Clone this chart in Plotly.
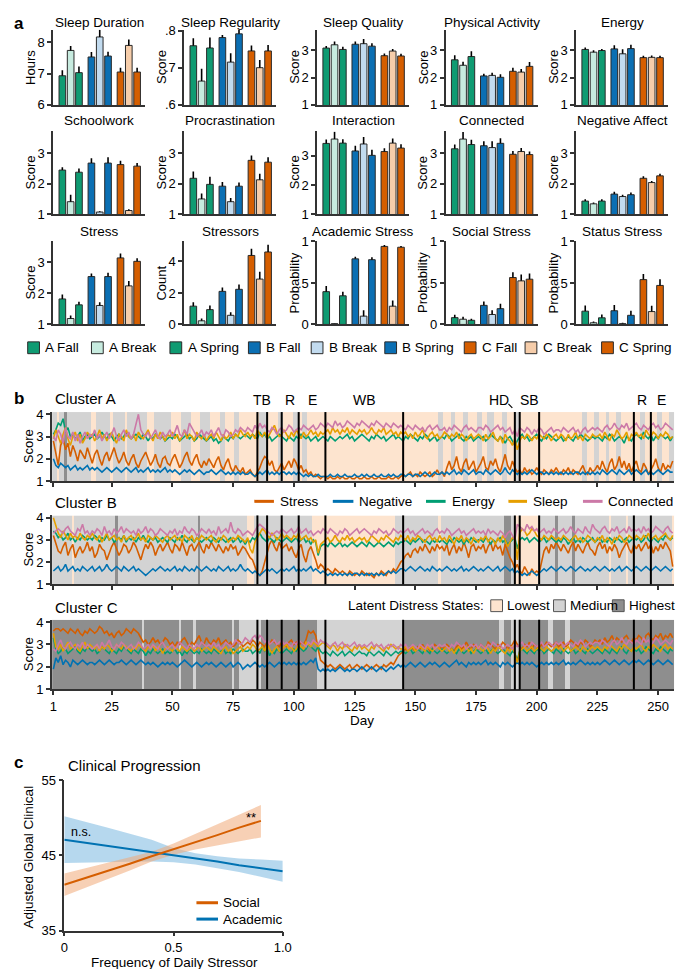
import numpy as np
import plotly.graph_objects as go

W, H = 685, 969
FONT = "Liberation Sans, Arial, Helvetica, sans-serif"

# ======================= DATA: panel a =======================
bar_labels = ["A Fall", "A Break", "A Spring", "B Fall", "B Break", "B Spring", "C Fall", "C Break", "C Spring"]
bar_colors = ["#0f9b72", "#c7ebdf", "#0f9b72", "#0b6fb3", "#c2dbef", "#0b6fb3", "#d55e00", "#f6cdaa", "#d55e00"]

sleep_duration = [6.93, 7.74, 7.03, 7.53, 8.17, 7.56, 7.05, 7.90, 7.05]
sleep_duration_err = [0.18, 0.14, 0.20, 0.16, 0.23, 0.14, 0.14, 0.19, 0.14]
sleep_regularity = [0.759, 0.664, 0.753, 0.781, 0.715, 0.791, 0.745, 0.700, 0.745]
sleep_regularity_err = [0.020, 0.033, 0.028, 0.007, 0.024, 0.011, 0.015, 0.021, 0.016]
sleep_quality = [3.08, 3.20, 3.03, 3.22, 3.24, 3.15, 2.80, 2.97, 2.79]
sleep_quality_err = [0.08, 0.12, 0.10, 0.10, 0.17, 0.11, 0.08, 0.08, 0.08]
physical_activity = [2.65, 2.45, 2.77, 2.06, 2.08, 2.01, 2.23, 2.20, 2.41]
physical_activity_err = [0.17, 0.13, 0.19, 0.08, 0.10, 0.11, 0.13, 0.11, 0.16]
energy = [3.03, 2.93, 2.99, 3.05, 2.87, 3.06, 2.73, 2.74, 2.73]
energy_err = [0.07, 0.07, 0.06, 0.13, 0.17, 0.14, 0.07, 0.07, 0.07]
schoolwork = [2.45, 1.41, 2.38, 2.68, 1.07, 2.68, 2.63, 1.12, 2.58]
schoolwork_err = [0.09, 0.23, 0.12, 0.16, 0.03, 0.19, 0.13, 0.04, 0.10]
procrastination = [2.18, 1.50, 1.98, 1.92, 1.41, 1.92, 2.77, 2.13, 2.71]
procrastination_err = [0.22, 0.18, 0.25, 0.14, 0.12, 0.12, 0.16, 0.20, 0.16]
interaction = [3.43, 3.58, 3.44, 3.17, 3.41, 3.02, 3.15, 3.44, 3.27]
interaction_err = [0.13, 0.25, 0.13, 0.18, 0.24, 0.19, 0.11, 0.16, 0.13]
connected = [3.15, 3.47, 3.29, 3.25, 3.19, 3.33, 2.97, 3.06, 2.96]
connected_err = [0.14, 0.23, 0.16, 0.15, 0.21, 0.17, 0.11, 0.12, 0.10]
negative_affect = [1.43, 1.34, 1.43, 1.66, 1.58, 1.64, 2.18, 2.04, 2.26]
negative_affect_err = [0.06, 0.04, 0.06, 0.08, 0.06, 0.07, 0.07, 0.05, 0.07]
stress = [1.82, 1.19, 1.63, 2.54, 1.61, 2.54, 3.14, 2.24, 3.03]
stress_err = [0.14, 0.10, 0.10, 0.10, 0.10, 0.12, 0.14, 0.16, 0.10]
stressors = [1.16, 0.23, 0.94, 2.10, 0.58, 2.23, 4.38, 2.88, 4.60]
stressors_err = [0.25, 0.15, 0.27, 0.25, 0.20, 0.30, 0.42, 0.46, 0.46]
academic_stress = [0.395, 0.01, 0.345, 0.79, 0.10, 0.78, 0.94, 0.22, 0.93]
academic_stress_err = [0.067, 0.005, 0.05, 0.027, 0.07, 0.03, 0.016, 0.067, 0.016]
social_stress = [0.082, 0.063, 0.05, 0.23, 0.12, 0.19, 0.565, 0.525, 0.545]
social_stress_err = [0.035, 0.03, 0.02, 0.047, 0.05, 0.06, 0.063, 0.078, 0.07]
status_stress = [0.16, 0.02, 0.08, 0.165, 0.01, 0.11, 0.54, 0.155, 0.47]
status_stress_err = [0.067, 0.016, 0.04, 0.07, 0.01, 0.055, 0.067, 0.07, 0.075]

panel_titles = ["Sleep Duration", "Sleep Regularity", "Sleep Quality", "Physical Activity", "Energy",
                "Schoolwork", "Procrastination", "Interaction", "Connected", "Negative Affect",
                "Stress", "Stressors", "Academic Stress", "Social Stress", "Status Stress"]
panel_ylabels = ["Hours", "Score", "Score", "Score", "Score",
                 "Score", "Score", "Score", "Score", "Score",
                 "Score", "Count", "Probability", "Probability", "Probability"]
panel_means = [sleep_duration, sleep_regularity, sleep_quality, physical_activity, energy,
               schoolwork, procrastination, interaction, connected, negative_affect,
               stress, stressors, academic_stress, social_stress, status_stress]
panel_errs = [sleep_duration_err, sleep_regularity_err, sleep_quality_err, physical_activity_err, energy_err,
              schoolwork_err, procrastination_err, interaction_err, connected_err, negative_affect_err,
              stress_err, stressors_err, academic_stress_err, social_stress_err, status_stress_err]
tick_hours = ([6, 7, 8], ["6", "7", "8"])
tick_reg = ([0.6, 0.7, 0.8], [".6", ".7", ".8"])
tick_score = ([1, 2, 3], ["1", "2", "3"])
tick_count = ([0, 2, 4], ["0", "2", "4"])
tick_prob = ([0, 0.5, 1], ["0", ".5", "1"])
panel_ticks = [tick_hours, tick_reg, tick_score, tick_score, tick_score,
               tick_score, tick_score, tick_score, tick_score, tick_score,
               tick_score, tick_count, tick_prob, tick_prob, tick_prob]
panel_ranges = [[6, 8.4], [0.6, 0.802], [1, 3.75], [1, 3.75], [1, 3.75],
                [1, 3.72], [1, 3.72], [1, 3.84], [1, 3.72], [1, 3.72],
                [1, 3.67], [0, 5.27], [0, 1.0], [0, 1.0], [0, 1.0]]

# ======================= DATA: panel b =======================
series_names = ["Stress", "Negative", "Energy", "Sleep", "Connected"]
series_colors = ["#d55e00", "#0072b2", "#009e73", "#e69f00", "#cc79a7"]
event_days = [85, 89, 95, 102, 113, 145, 191, 193, 201, 240, 247]
event_labels = ["TB", "R", "E", "WB", "HD", "SB", "R", "E"]
event_label_days = [87, 98.5, 107.5, 129, 184.5, 197, 243.5, 251.5]
day_ticks = [1, 25, 50, 75, 100, 125, 150, 175, 200, 225, 250]
state_names = ["Lowest", "Medium", "Highest"]
state_colors = ["#fde4cf", "#d3d3d3", "#8e8e8e"]

# values in tenths of a score point, one per day (days 1..256)
a_stress = """
28 22 17 26 29 24 27 21 26 23 19 24 22 20 25 21
18 22 24 20 17 21 23 19 22 25 21 18 20 23 19 17
20 22 18 16 19 21 23 20 17 19 22 18 16 20 21 18
17 20 22 19 16 18 21 23 19 17 20 22 18 16 19 17
20 18 16 19 21 17 15 18 20 16 14 17 15 14 16 13
14 15 13 12 14 16 19 21 20 17 19 15 14 16 18 15
17 19 16 20 18 15 17 14 15 13 14 12 13 12 11 12
12 11 12 11 11 12 11 12 11 11 12 11 11 12 11 11
12 11 11 12 11 11 12 11 11 11 12 11 11 12 11 12
13 12 13 14 12 13 12 14 13 12 13 14 12 13 15 13
14 12 16 19 15 17 21 16 14 18 20 15 17 19 14 16
18 21 16 15 19 17 20 16 14 18 22 17 15 19 16 14
15 13 16 14 15 13 14 16 14 13 15 14 13 15 14 16
14 13 15 14 16 13 15 14 13 15 17 14 13 16 14 15
17 15 19 16 14 18 20 15 17 21 16 19 15 18 14 17
19 15 14 18 16 13 15 17 20 16 14 18 15 17 16 19
"""
a_negative = """
20 17 16 18 17 16 17 15 16 17 15 16 15 16 17 15
16 15 16 15 14 15 16 15 14 15 16 15 14 15 16 15
14 15 16 14 15 14 15 16 14 15 14 15 14 15 16 14
15 14 15 14 13 14 15 14 15 14 13 14 15 14 13 14
14 15 14 13 14 15 14 13 14 13 14 13 14 13 14 13
13 14 13 12 13 14 13 14 15 13 14 13 14 13 14 14
13 14 13 14 13 14 13 12 13 12 13 12 12 13 12 12
12 12 13 12 12 13 12 12 13 12 12 12 13 12 12 13
12 13 12 12 13 12 12 13 12 12 13 12 13 12 12 13
13 12 13 13 12 13 13 12 13 14 13 12 13 14 13 13
14 13 14 13 14 15 13 14 13 15 14 13 14 15 13 14
14 13 15 14 13 14 15 14 13 14 16 14 13 15 14 13
14 13 14 13 14 15 14 13 14 14 13 14 13 14 13 14
13 14 13 14 13 14 13 14 14 13 14 13 14 13 14 13
14 13 15 14 13 14 15 14 13 15 14 13 14 15 13 14
15 14 13 14 15 13 14 13 14 15 14 13 14 15 14 14
"""
a_energy = """
31 33 36 35 38 32 34 30 31 29 30 32 28 30 31 29
30 31 29 30 32 30 29 31 30 28 30 31 29 30 32 30
29 30 31 30 29 31 30 28 30 29 31 30 29 30 28 29
30 29 31 30 28 29 30 31 29 30 28 29 31 30 29 28
29 30 28 29 27 28 30 29 28 30 29 31 30 29 30 31
30 29 31 30 29 32 30 31 29 30 28 29 30 31 30 29
28 30 29 28 30 29 31 30 29 30 28 29 30 28 29 30
29 28 30 29 28 29 30 29 30 31 29 30 28 29 30 31
30 29 28 30 29 31 30 29 30 28 29 30 31 29 30 29
28 30 29 31 30 29 28 30 29 31 30 28 29 30 28 29
30 29 31 30 28 29 30 31 29 28 30 29 30 28 29 30
29 30 28 29 31 30 29 28 30 29 27 29 30 28 26 28
30 31 29 30 28 29 30 31 29 28 30 29 31 30 29 28
29 30 28 29 30 29 28 30 29 31 30 29 28 29 30 29
30 29 28 30 29 31 30 28 29 30 29 27 30 29 28 30
31 30 29 32 30 29 31 28 30 29 31 30 29 30 28 30
"""
a_sleep = """
29 33 30 27 31 34 29 26 30 32 28 31 27 29 32 30
31 28 30 33 29 31 28 30 32 29 27 31 30 28 33 30
29 31 28 32 30 29 31 33 30 28 31 29 32 30 28 31
30 32 29 31 28 30 33 29 31 30 28 32 30 29 31 28
30 31 29 32 30 28 31 29 30 32 29 31 30 33 31 30
32 30 31 29 33 31 30 32 29 31 33 35 32 30 31 33
31 29 32 30 33 31 29 32 30 31 33 31 32 30 32 31
32 33 31 34 32 33 31 33 32 34 31 33 32 31 33 32
33 31 32 34 32 31 33 32 34 31 32 33 31 32 30 32
31 32 30 31 29 32 30 31 33 30 29 31 32 30 31 29
30 32 31 29 31 30 32 29 31 30 28 30 31 29 30 31
30 28 31 29 30 32 29 28 30 27 31 29 28 26 29 24
28 30 29 31 30 28 30 29 31 30 29 31 30 28 30 31
29 31 30 28 31 29 30 32 29 30 28 31 30 29 31 30
30 31 29 32 30 28 31 30 33 31 29 30 32 28 31 30
32 30 31 29 33 31 30 32 31 29 31 30 32 31 29 30
"""
a_connected = """
30 28 33 31 27 34 30 29 32 28 31 27 30 32 29 31
30 33 29 31 28 30 32 29 31 34 30 28 31 33 30 32
29 31 35 40 33 31 30 32 29 31 33 30 29 32 30 31
33 30 32 35 31 30 33 31 36 34 32 30 31 33 30 32
31 33 30 32 34 31 30 33 32 30 31 33 32 34 33 32
34 33 32 35 33 36 34 35 33 32 34 33 31 33 34 32
33 35 34 32 33 34 33 35 34 33 34 35 33 34 36 35
34 36 35 34 37 35 36 34 35 37 36 35 34 36 35 37
36 35 34 36 35 37 36 35 34 36 35 34 36 35 34 35
34 33 35 34 33 35 34 33 34 32 34 35 33 34 35 33
33 34 32 34 33 35 34 33 32 34 35 33 34 33 32 34
34 33 35 34 32 33 34 35 33 34 32 33 34 31 33 30
34 33 32 34 33 31 33 32 34 33 31 32 33 34 32 33
33 32 34 33 32 33 34 32 33 31 33 34 32 33 34 33
34 33 32 34 35 33 34 36 34 33 35 34 36 33 34 35
36 34 33 35 34 33 35 36 34 35 33 34 36 35 34 33
"""
b_stress = """
32 28 25 24 27 29 23 26 28 22 25 27 24 26 29 25
27 22 24 28 26 25 21 24 27 29 26 23 25 28 27 24
26 29 27 24 21 25 28 26 29 27 23 26 28 25 27 29
26 24 28 27 25 29 26 23 27 28 25 27 29 26 24 28
26 29 27 25 28 26 24 27 25 28 26 27 23 25 27 26
24 22 21 18 15 14 16 20 24 28 30 27 25 29 26 27
28 25 27 24 22 26 28 23 20 25 27 24 21 17 19 18
16 17 16 15 17 16 15 16 15 14 16 15 14 15 14 16
15 14 15 14 13 15 14 16 15 14 16 15 17 16 18 20
21 23 24 22 25 26 24 27 25 28 26 24 27 25 28 26
27 25 28 23 26 28 24 27 25 29 26 22 27 28 25 27
26 28 24 27 29 25 28 26 27 23 28 25 22 20 17 19
16 15 18 16 14 17 15 16 15 20 25 27 24 28 26 29
27 25 28 26 24 27 29 25 28 26 24 27 29 26 25 23
27 29 26 28 24 27 25 28 26 22 25 27 29 26 24 28
26 28 25 27 29 26 28 24 27 25 28 26 29 27 25 18
"""
b_negative = """
16 17 18 16 17 19 16 17 18 16 17 16 18 17 16 17
18 16 17 18 16 17 19 17 16 17 18 17 16 18 17 16
17 18 16 17 16 15 14 15 16 17 16 17 18 17 16 17
16 17 18 16 17 16 18 17 16 17 16 18 17 16 17 18
17 16 17 16 18 17 16 17 18 16 17 16 17 19 17 16
17 16 15 16 15 14 15 16 17 16 17 16 15 16 17 16
17 16 17 18 16 17 16 17 16 17 18 16 17 16 15 16
15 14 15 14 15 14 15 14 15 14 15 14 15 15 14 15
14 15 14 15 14 15 14 15 14 15 16 15 16 15 16 17
17 16 17 18 17 16 17 18 17 16 17 16 18 17 16 17
16 17 18 17 16 17 16 17 18 16 17 16 17 18 17 16
17 16 17 18 17 16 17 18 16 17 18 17 16 17 15 16
15 14 15 14 15 16 15 14 15 16 17 16 17 18 17 16
17 18 17 16 17 18 17 16 17 18 17 16 17 16 17 18
17 16 17 18 17 16 17 16 17 18 16 17 18 17 16 17
18 17 16 17 18 17 16 17 18 17 16 17 18 17 16 17
"""
b_energy = """
34 33 31 32 30 31 33 30 31 29 31 30 32 31 30 31
30 32 31 29 31 30 32 30 31 29 30 31 30 32 29 31
30 31 29 31 30 32 30 29 31 30 31 29 30 31 30 29
31 30 29 31 30 32 30 29 31 30 29 31 30 29 30 31
30 29 31 30 29 31 30 29 30 31 29 30 31 29 30 28
30 29 31 30 32 33 31 30 29 31 30 29 31 30 29 30
31 30 29 30 31 29 30 31 29 30 28 30 29 23 27 28
28 27 29 28 27 28 29 27 28 27 28 29 28 27 28 29
28 27 29 28 27 28 29 28 27 28 29 28 27 29 28 29
29 30 29 28 30 29 30 31 29 30 29 28 30 29 30 29
30 29 28 30 29 31 30 29 30 28 30 29 31 30 29 30
30 29 31 30 28 30 29 30 31 29 30 28 29 30 31 26
30 31 30 31 29 30 31 30 29 30 31 29 30 31 30 29
30 29 31 30 28 30 31 29 30 29 31 30 29 30 31 29
30 31 29 30 29 31 30 29 31 30 29 30 31 29 30 31
30 31 29 30 32 30 29 31 30 29 31 30 32 31 30 31
"""
b_sleep = """
40 36 33 31 34 32 30 33 31 32 30 33 31 30 32 31
33 31 30 32 29 31 33 30 31 32 30 31 29 32 30 31
32 30 31 33 30 31 29 32 31 30 32 31 30 29 31 32
30 31 32 30 31 29 32 31 30 32 29 31 30 32 31 30
31 32 30 29 31 30 32 31 29 30 31 30 32 31 30 29
31 26 24 29 31 33 35 34 32 31 33 32 30 31 33 31
32 31 30 32 31 33 30 31 32 30 31 29 30 24 28 29
30 31 29 30 32 30 29 31 30 32 30 31 29 30 31 30
31 29 30 32 31 30 29 31 30 32 31 30 29 31 30 32
31 30 32 29 31 30 32 31 30 29 31 32 30 31 29 32
30 31 29 32 30 28 31 30 32 29 31 30 28 31 30 29
31 30 32 29 31 30 28 31 29 32 30 27 29 31 30 21
33 35 34 32 33 35 34 32 31 30 32 31 30 32 31 30
31 30 32 31 30 29 31 32 30 31 29 30 32 31 30 29
31 30 32 29 31 30 28 31 30 32 31 29 30 32 31 30
32 31 30 32 31 33 30 31 32 30 31 32 33 31 30 32
"""
b_connected = """
33 34 35 34 33 35 36 34 33 32 35 34 37 33 34 32
34 33 35 34 32 36 33 34 32 35 33 34 36 33 35 34
33 34 32 35 33 34 36 33 35 34 32 33 35 34 33 32
34 33 35 32 34 33 36 34 33 35 34 32 33 35 34 33
35 33 34 32 36 33 34 35 33 38 34 33 35 34 32 33
34 33 32 34 36 37 36 35 34 33 32 33 34 33 35 34
33 34 35 33 34 36 33 34 35 33 34 32 33 34 33 35
34 33 35 34 33 32 34 33 35 34 32 33 34 35 33 34
35 34 33 32 34 33 35 34 33 34 32 33 35 34 33 34
33 34 35 33 34 32 33 34 35 33 34 33 32 34 35 33
34 33 35 34 32 33 34 35 33 34 32 33 34 35 33 34
33 34 32 35 33 34 33 32 34 33 31 33 34 32 30 37
36 35 34 37 35 36 34 35 33 34 35 33 34 33 35 34
33 34 35 33 34 36 34 33 35 34 33 36 34 33 37 35
34 33 35 36 34 33 35 34 36 33 34 35 33 36 34 35
34 35 33 36 34 35 33 34 36 35 34 33 35 36 34 33
"""
c_stress = """
36 37 37 36 37 36 35 37 36 35 37 35 34 36 35 37
36 35 36 38 37 35 36 34 35 33 35 36 34 35 37 36
35 37 36 35 33 31 32 30 31 33 31 32 30 31 33 32
30 31 29 31 30 32 33 31 29 31 30 32 34 31 30 33
31 30 32 31 33 30 31 32 30 31 29 30 32 31 29 30
31 30 32 31 29 31 30 29 31 30 32 31 30 29 31 30
29 31 32 30 31 29 31 30 32 36 35 36 34 28 23 22
21 20 21 20 19 20 21 20 19 20 21 19 20 21 20 19
20 21 20 19 20 21 20 19 21 20 21 22 21 23 25 26
27 28 27 29 28 27 29 28 30 28 29 27 28 30 29 28
29 28 30 29 28 27 29 30 28 29 31 29 28 30 29 28
30 29 28 31 30 29 28 30 29 31 30 28 29 30 32 30
29 28 30 29 31 28 30 29 28 30 29 31 30 29 30 31
29 30 31 29 30 32 31 30 29 31 30 32 31 29 30 32
31 32 30 33 31 32 34 31 33 32 31 33 34 32 31 33
32 34 33 31 34 35 33 32 34 33 35 32 34 33 35 33
"""
c_negative = """
19 24 22 25 21 23 22 20 23 22 21 22 23 22 21 22
22 21 22 23 22 21 22 23 22 21 22 22 23 22 21 22
23 22 21 22 23 22 21 22 21 22 21 20 21 22 21 22
21 22 21 20 21 22 23 22 21 20 21 22 21 20 21 22
21 22 21 20 21 22 21 20 21 22 20 21 22 21 19 20
21 20 21 22 21 20 21 20 21 22 21 20 21 22 21 22
21 22 21 22 21 22 21 22 21 22 23 22 24 19 18 19
18 19 18 19 18 19 20 19 18 19 18 19 19 18 19 20
19 18 19 20 19 18 19 20 19 18 19 20 19 20 21 20
21 20 21 22 21 20 21 22 21 20 21 22 21 22 21 20
21 22 21 20 21 22 23 21 22 21 20 22 21 22 21 22
21 22 23 21 22 21 22 21 20 22 21 22 21 20 21 22
21 22 21 22 21 22 21 20 21 22 21 22 21 22 21 22
21 22 23 21 22 21 22 21 22 23 22 21 22 21 22 21
22 21 22 23 22 21 22 23 22 21 22 23 22 21 22 23
22 23 22 21 22 23 22 21 22 23 22 21 22 23 22 21
"""
c_energy = """
33 28 26 27 29 28 26 27 28 29 27 26 28 27 29 28
27 28 26 27 29 28 27 26 28 27 26 28 27 29 28 27
26 28 27 26 28 27 25 27 26 28 27 26 27 28 26 27
26 27 28 26 27 25 27 26 28 27 26 27 26 28 27 26
27 26 28 27 26 27 28 26 27 26 28 27 26 27 28 27
27 28 26 27 28 26 29 27 28 25 27 26 28 27 26 27
28 27 26 28 27 29 28 27 28 30 29 28 27 29 27 26
27 26 25 27 26 25 26 27 25 26 27 26 25 26 27 26
26 25 27 26 25 26 27 26 25 27 26 25 26 27 26 27
27 26 27 28 26 27 28 27 26 28 27 26 28 27 26 27
28 27 26 27 28 27 26 28 27 26 27 28 26 27 28 27
26 27 28 26 27 28 27 26 27 28 27 26 25 27 26 23
27 28 27 26 28 27 26 28 27 28 26 27 28 27 26 28
27 26 28 27 26 27 28 26 27 28 27 26 28 27 26 27
28 27 26 28 27 26 28 27 26 28 29 27 26 28 27 28
27 28 26 27 29 28 27 26 28 27 29 28 27 26 28 27
"""
c_sleep = """
35 29 28 30 27 29 31 28 29 30 28 27 29 31 28 30
29 28 30 27 29 28 30 29 27 28 30 29 28 30 29 28
27 29 28 30 29 28 27 29 28 30 27 29 28 26 28 29
28 27 29 28 27 29 28 27 28 29 27 28 29 27 28 29
28 27 29 28 27 26 28 29 27 28 26 27 28 29 27 28
29 28 30 29 27 28 29 27 30 28 26 28 29 27 28 29
30 28 29 27 28 30 29 28 31 30 29 31 30 29 30 31
30 29 28 30 29 27 29 28 30 29 28 27 29 28 30 28
29 28 27 29 28 30 29 28 27 29 28 30 29 28 29 28
28 29 27 28 29 27 28 29 28 27 29 28 27 28 29 28
27 28 29 27 28 26 28 29 27 28 29 27 28 26 28 29
28 27 29 28 26 28 27 29 28 27 26 28 27 29 26 22
27 28 29 27 28 29 27 28 29 28 27 29 28 27 28 29
28 29 27 28 29 27 28 29 28 27 29 28 27 28 29 28
29 28 27 29 28 30 29 28 27 29 28 30 29 28 27 29
28 29 30 28 27 29 28 30 29 28 27 29 30 28 29 28
"""
c_connected = """
28 27 30 32 29 28 30 31 29 28 30 29 31 28 30 29
28 29 30 28 31 29 30 32 29 28 30 29 31 30 28 29
30 28 29 31 30 28 29 30 28 30 29 28 30 31 29 28
29 30 28 29 31 30 29 28 30 29 28 30 29 31 30 29
30 29 31 29 30 28 29 31 30 29 30 32 31 30 31 33
32 31 33 34 32 34 33 31 32 30 31 32 30 31 32 30
31 30 29 31 30 32 31 30 29 31 30 32 31 30 32 31
31 30 29 30 31 29 30 31 29 30 29 30 31 29 30 29
30 29 30 31 29 30 29 30 28 29 30 29 30 29 28 30
29 30 28 29 30 29 28 30 29 28 30 29 30 28 29 30
29 30 29 28 30 29 31 30 29 30 28 29 30 29 30 28
30 29 28 30 29 31 30 29 30 28 29 30 29 28 30 29
30 31 29 30 29 31 30 29 30 31 29 30 31 30 29 31
30 31 29 30 31 30 29 31 30 32 31 29 30 31 30 31
31 30 32 31 30 29 31 32 30 31 33 31 30 32 31 30
32 31 30 33 31 32 30 31 33 32 30 31 32 31 30 32
"""

# latent distress state runs: (first day, state) with 0=Lowest, 1=Medium, 2=Highest
a_state_runs = [(1, 1), (3, 0), (4, 1), (6, 2), (7, 1), (17, 0), (19, 1), (25, 0), (26, 1), (31, 0),
                (32, 1), (40, 0), (43, 1), (50, 0), (54, 1), (58, 0), (62, 1), (66, 0), (70, 1), (72, 0),
                (76, 1), (78, 0), (86, 1), (90, 0), (94, 1), (96, 0), (100, 1), (102, 0), (104, 1), (106, 0),
                (160, 1), (162, 0), (165, 1), (167, 0), (170, 1), (172, 0), (176, 1), (178, 0), (180, 1),
                (183, 0), (186, 1), (188, 0), (191, 1), (193, 0), (219, 1), (221, 0), (224, 1), (226, 0),
                (229, 1), (230, 0), (233, 1), (235, 0), (243, 1), (245, 0), (250, 1), (252, 0), (255, 1)]
b_state_runs = [(1, 1), (9, 0), (10, 1), (27, 2), (28, 1), (61, 2), (62, 1), (81, 0), (84, 1), (108, 0),
                (142, 1), (160, 0), (161, 1), (187, 2), (190, 1), (191, 0), (201, 1), (208, 2), (209, 1),
                (215, 2), (216, 1), (230, 0), (231, 1), (237, 0), (238, 1), (256, 0)]
c_state_runs = [(1, 2), (38, 1), (39, 2), (53, 1), (54, 2), (59, 1), (60, 2), (75, 1), (76, 2), (78, 1),
                (87, 2), (110, 1), (146, 2), (185, 1), (187, 2), (190, 1), (193, 2), (205, 1), (207, 2),
                (212, 1), (214, 2)]

# ======================= DATA: panel c =======================
academic_x = [0, 0.1, 0.2, 0.3, 0.4, 0.5, 0.6, 0.7, 0.8, 0.9, 1.0]
academic_fit = [47.1, 46.7, 46.3, 45.8, 45.4, 45.0, 44.6, 44.2, 43.7, 43.3, 42.9]
academic_hi = [50.2, 49.5, 48.7, 47.9, 47.1, 46.0, 45.3, 44.9, 44.6, 44.45, 44.3]
academic_lo = [44.0, 44.05, 44.1, 44.15, 44.2, 44.1, 43.8, 43.3, 42.8, 42.2, 41.5]
social_x = [0, 0.1, 0.2, 0.3, 0.4, 0.5, 0.6, 0.7, 0.8, 0.9]
social_fit = [41.1, 42.0, 43.0, 43.9, 44.9, 45.8, 46.8, 47.7, 48.7, 49.6]
social_hi = [42.6, 43.3, 44.0, 44.7, 45.5, 46.6, 47.9, 49.2, 50.5, 51.7]
social_lo = [39.6, 40.7, 41.9, 43.0, 44.2, 45.1, 45.8, 46.3, 46.9, 47.4]


# ======================= helpers =======================
def parse(s):
    return [int(v) / 10 for v in s.split()]


def expand_runs(runs, n=256):
    out = []
    for i, (start, st) in enumerate(runs):
        end = runs[i + 1][0] if i + 1 < len(runs) else n + 1
        out += [st] * (end - start)
    return out[:n]


def PX(x):
    return x / W


def PY(y):
    return 1 - y / H


fig = go.Figure()
layout = dict(width=W, height=H, margin=dict(l=0, r=0, t=0, b=0), paper_bgcolor="white",
              plot_bgcolor="rgba(0,0,0,0)", showlegend=False,
              font=dict(family=FONT, size=13, color="black"))
annotations = []
shapes = []


def ann(x, y, text, size=13, xanchor="center", yanchor="middle", angle=0, bold=False, color="black"):
    annotations.append(dict(x=PX(x), y=PY(y), xref="paper", yref="paper", text=("<b>%s</b>" % text) if bold else text,
                            showarrow=False, xanchor=xanchor, yanchor=yanchor, textangle=angle,
                            font=dict(family=FONT, size=size, color=color)))


AXC = "#333333"
TICKF = 13

# ======================= panel a: bar grid =======================
col_x = [42, 175.5, 311, 442, 575]
col_w = 94
row_y = [(15, 91.3), (118.3, 202.3), (230, 314.3)]
title_y = [8, 107, 220]
bar_pos = [g * 3.5 + s for g in range(3) for s in range(3)]

for i in range(15):
    r, c = divmod(i, 5)
    n = i + 1
    x0 = col_x[c]
    y_top, y_bot = row_y[r]
    fig.add_trace(go.Bar(x=bar_pos, y=panel_means[i], width=0.8,
                         marker=dict(color=bar_colors, line=dict(color="#2a2a2a", width=1)),
                         error_y=dict(type="data", array=panel_errs[i], arrayminus=[0] * 9, symmetric=False,
                                      color="black", thickness=1.6, width=0),
                         xaxis="x%d" % n, yaxis="y%d" % n, hoverinfo="skip"))
    layout["xaxis%d" % n] = dict(domain=[PX(x0), PX(x0 + col_w)], range=[-1.1, 10], showline=True,
                                 linecolor=AXC, linewidth=1.5, showticklabels=False, ticks="",
                                 showgrid=False, zeroline=False, anchor="y%d" % n, fixedrange=True)
    tv, tt = panel_ticks[i]
    layout["yaxis%d" % n] = dict(domain=[PY(y_bot), PY(y_top)], range=panel_ranges[i], showline=True,
                                 linecolor=AXC, linewidth=1.5, ticks="outside", ticklen=4, tickwidth=1.5,
                                 tickcolor=AXC, tickvals=tv, ticktext=tt, showgrid=False, zeroline=False,
                                 tickfont=dict(size=TICKF), anchor="x%d" % n, fixedrange=True)
    ann(x0 + col_w / 2, title_y[r], panel_titles[i], size=13.5)
    ann(x0 - 23, (y_top + y_bot) / 2, panel_ylabels[i], size=13, angle=-90)

ann(7, 9, "a", size=17, bold=True)

# panel a legend
leg_a_x = [22, 87, 167, 247, 311, 386, 467, 529, 607]
leg_a_y = 338
for k, lab in enumerate(bar_labels):
    cx = leg_a_x[k]
    shapes.append(dict(type="rect", xref="paper", yref="paper", x0=PX(cx - 6), x1=PX(cx + 6),
                       y0=PY(leg_a_y + 6), y1=PY(leg_a_y - 6), fillcolor=bar_colors[k],
                       line=dict(color="#2a2a2a", width=1)))
    ann(cx + 10, leg_a_y, lab, size=13.5, xanchor="left")

# ======================= panel b: clusters =======================
days = list(range(1, 257))
edges = [d - 0.5 for d in range(1, 258)]
cluster_series = [
    [a_stress, a_negative, a_energy, a_sleep, a_connected],
    [b_stress, b_negative, b_energy, b_sleep, b_connected],
    [c_stress, c_negative, c_energy, c_sleep, c_connected],
]
cluster_states = [a_state_runs, b_state_runs, c_state_runs]
cluster_titles = ["Cluster A", "Cluster B", "Cluster C"]
cl_y = [(403.3, 473.3), (508.3, 578.3), (614.3, 685)]
cl_title_y = [390, 495, 601.7]
cl_x0, cl_x1 = 40.7, 675
state_scale = [[0, state_colors[0]], [0.3333, state_colors[0]], [0.3333, state_colors[1]],
               [0.6667, state_colors[1]], [0.6667, state_colors[2]], [1, state_colors[2]]]

for k in range(3):
    n = 16 + k
    xa, ya = "x%d" % n, "y%d" % n
    st = expand_runs(cluster_states[k])
    fig.add_trace(go.Heatmap(x=edges, y=[1, 4.1], z=[st], zmin=0, zmax=2, colorscale=state_scale,
                             showscale=False, hoverinfo="skip", xaxis=xa, yaxis=ya))
    for j, s in enumerate(cluster_series[k]):
        vals = parse(s)
        fig.add_trace(go.Scatter(x=days[:len(vals)], y=vals, mode="lines",
                                 line=dict(color=series_colors[j], width=1.6),
                                 xaxis=xa, yaxis=ya, hoverinfo="skip"))
    top, bot = cl_y[k]
    layout["xaxis%d" % n] = dict(domain=[PX(cl_x0), PX(cl_x1)], range=[0.4, 256.6], showline=True,
                                 linecolor=AXC, linewidth=1.5, ticks="outside", ticklen=4, tickwidth=1.5,
                                 tickcolor=AXC, tickvals=day_ticks, showticklabels=(k == 2),
                                 tickfont=dict(size=TICKF), showgrid=False, zeroline=False, anchor=ya,
                                 fixedrange=True)
    layout["yaxis%d" % n] = dict(domain=[PY(bot), PY(top)], range=[1, 4.1], showline=True,
                                 linecolor=AXC, linewidth=1.5, ticks="outside", ticklen=4, tickwidth=1.5,
                                 tickcolor=AXC, tickvals=[1, 2, 3, 4], tickfont=dict(size=TICKF),
                                 showgrid=False, zeroline=False, anchor=xa, fixedrange=True)
    for d in event_days:
        shapes.append(dict(type="line", xref=xa, yref="%s domain" % ya, x0=d, x1=d, y0=0, y1=1,
                           line=dict(color="black", width=2), layer="above"))
    ann(42, cl_title_y[k], cluster_titles[k], size=15, xanchor="left")
    ann(17, (top + bot) / 2, "Score", size=13, angle=-90)

ann(7, 390, "b", size=17, bold=True)
# event labels above cluster A (placed by day on the x axis)
for lab, d in zip(event_labels, event_label_days):
    annotations.append(dict(x=d, y=PY(391), xref="x16", yref="paper", text=lab, showarrow=False,
                            xanchor="center", yanchor="middle", font=dict(family=FONT, size=14)))
shapes.append(dict(type="line", xref="paper", yref="paper", x0=PX(506), x1=PX(510), y0=PY(395), y1=PY(399),
                   line=dict(color="black", width=1.2)))
ann(357, 717, "Day", size=13.5)

# line legend (cluster B row)
leg_line_x = [(247, 267), (327, 348), (422, 442), (506, 525), (582, 602)]
for j, nm in enumerate(series_names):
    a0, a1 = leg_line_x[j]
    shapes.append(dict(type="line", xref="paper", yref="paper", x0=PX(a0), x1=PX(a1), y0=PY(494), y1=PY(494),
                       line=dict(color=series_colors[j], width=3)))
    ann(a1 + 4, 494, nm, size=13.5, xanchor="left")

# latent-state legend (cluster C row)
ann(483, 600, "Latent Distress States:", size=13.5, xanchor="right")
leg_state_x = [494, 558, 618]
for j, nm in enumerate(state_names):
    cx = leg_state_x[j]
    shapes.append(dict(type="rect", xref="paper", yref="paper", x0=PX(cx - 6), x1=PX(cx + 6),
                       y0=PY(606), y1=PY(594), fillcolor=state_colors[j], line=dict(color="#555", width=1)))
    ann(cx + 9, 600, nm, size=13.5, xanchor="left")

# ======================= panel c =======================
xa, ya = "x19", "y19"
fig.add_trace(go.Scatter(x=academic_x + academic_x[::-1], y=academic_hi + academic_lo[::-1], fill="toself",
                         fillcolor="rgba(110,178,222,0.5)", line=dict(width=0), mode="lines",
                         xaxis=xa, yaxis=ya, hoverinfo="skip"))
fig.add_trace(go.Scatter(x=social_x + social_x[::-1], y=social_hi + social_lo[::-1], fill="toself",
                         fillcolor="rgba(240,170,120,0.55)", line=dict(width=0), mode="lines",
                         xaxis=xa, yaxis=ya, hoverinfo="skip"))
fig.add_trace(go.Scatter(x=academic_x, y=academic_fit, mode="lines", line=dict(color="#0072b2", width=2),
                         xaxis=xa, yaxis=ya, hoverinfo="skip"))
fig.add_trace(go.Scatter(x=social_x, y=social_fit, mode="lines", line=dict(color="#d55e00", width=2),
                         xaxis=xa, yaxis=ya, hoverinfo="skip"))
layout["xaxis19"] = dict(domain=[PX(53.3), PX(276)], range=[0, 1.0], showline=True, linecolor=AXC, linewidth=1.5,
                         ticks="outside", ticklen=4, tickwidth=1.5, tickcolor=AXC, tickvals=[0, 0.5, 1.0],
                         ticktext=["0", "0.5", "1.0"], tickfont=dict(size=TICKF), showgrid=False, zeroline=False,
                         anchor=ya, fixedrange=True)
layout["yaxis19"] = dict(domain=[PY(930), PY(777.3)], range=[35, 55], showline=True, linecolor=AXC, linewidth=1.5,
                         ticks="outside", ticklen=4, tickwidth=1.5, tickcolor=AXC, tickvals=[35, 45, 55],
                         tickfont=dict(size=TICKF), showgrid=False, zeroline=False, anchor=xa, fixedrange=True)
ann(7, 759, "c", size=17, bold=True)
ann(55, 762, "Clinical Progression", size=15, xanchor="left")
ann(17, 855, "Adjusted Global Clinical", size=13.5, angle=-90)
ann(166, 962, "Frequency of Daily Stressor", size=13.5)
ann(70, 830, "n.s.", size=12.5)
ann(244, 815, "**", size=13)
shapes.append(dict(type="line", xref="paper", yref="paper", x0=PX(188), x1=PX(210), y0=PY(901.7), y1=PY(901.7),
                   line=dict(color="#d55e00", width=3)))
shapes.append(dict(type="line", xref="paper", yref="paper", x0=PX(188), x1=PX(210), y0=PY(918.3), y1=PY(918.3),
                   line=dict(color="#0072b2", width=3)))
ann(213, 901.7, "Social", size=13.5, xanchor="left")
ann(213, 918.3, "Academic", size=13.5, xanchor="left")

layout["annotations"] = annotations
layout["shapes"] = shapes
fig.update_layout(**layout)
fig.write_html("out.html")
